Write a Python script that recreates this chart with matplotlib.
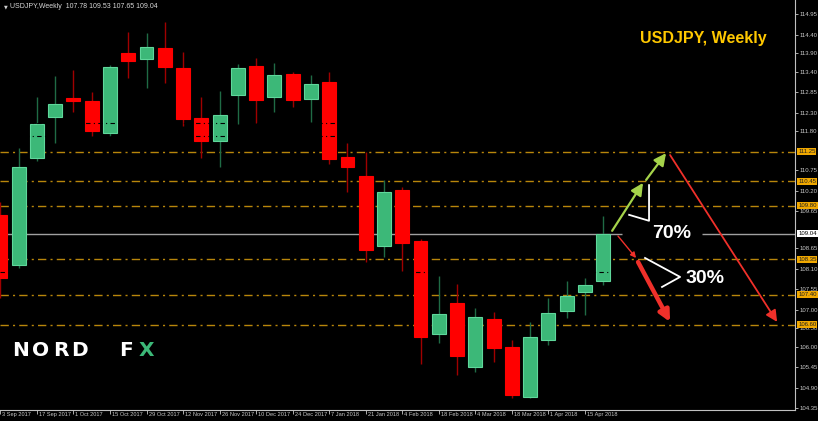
import matplotlib
matplotlib.use('Agg')
import matplotlib.pyplot as plt
from matplotlib.patches import Rectangle, FancyArrowPatch
from matplotlib.transforms import blended_transform_factory, offset_copy

# weekly USDJPY candles, 3 Sep 2017 .. 22 Apr 2018
opens = [109.55, 108.20, 111.08, 112.18, 112.69, 112.61, 111.75, 113.90, 113.74, 114.04,
         113.50, 112.15, 111.54, 112.77, 113.55, 112.72, 113.34, 112.67, 113.12, 111.11,
         110.60, 108.71, 110.22, 108.85, 106.35, 107.18, 105.46, 106.75, 106.00, 104.65,
         106.19, 106.97, 107.48, 107.78]
highs = [109.90, 111.35, 112.72, 113.28, 113.44, 112.85, 113.58, 114.47, 114.44, 114.73,
         113.93, 112.72, 112.88, 113.61, 113.77, 113.63, 113.39, 113.31, 113.39, 111.48,
         111.24, 110.49, 110.30, 108.90, 107.91, 107.69, 107.05, 106.94, 106.19, 106.67,
         107.32, 107.77, 107.85, 109.53]
lows = [107.32, 108.12, 111.00, 111.48, 112.32, 111.67, 111.67, 113.23, 112.96, 113.10,
        111.94, 111.08, 110.84, 111.99, 112.02, 112.32, 112.45, 112.05, 110.92, 110.17,
        108.28, 108.42, 108.04, 105.54, 106.11, 105.25, 105.33, 105.60, 104.63, 104.63,
        106.05, 106.78, 106.86, 107.65]
closes = [107.85, 110.84, 111.99, 112.53, 112.61, 111.80, 113.53, 113.69, 114.06, 113.53,
          112.13, 111.54, 112.23, 113.50, 112.64, 113.31, 112.64, 113.07, 111.05, 110.84,
          108.61, 110.17, 108.79, 106.27, 106.89, 105.76, 106.80, 105.97, 104.71, 106.27,
          106.91, 107.37, 107.66, 109.04]

date_labels = ['3 Sep 2017', '17 Sep 2017', '1 Oct 2017', '15 Oct 2017', '29 Oct 2017',
               '12 Nov 2017', '26 Nov 2017', '10 Dec 2017', '24 Dec 2017', '7 Jan 2018',
               '21 Jan 2018', '4 Feb 2018', '18 Feb 2018', '4 Mar 2018', '18 Mar 2018',
               '1 Apr 2018', '15 Apr 2018']
price_ticks = [114.95, 114.40, 113.90, 113.40, 112.85, 112.30, 111.80, 110.75, 110.20,
               109.65, 108.65, 108.10, 107.55, 107.00, 106.50, 106.00, 105.45, 104.90, 104.35]
levels = [111.25, 110.45, 109.80, 108.35, 107.40, 106.60]
hidden_levels = [112.02, 111.67, 108.01]
last_price = 109.04

GREEN = '#3cb878'
RED = '#ff0000'
GOLD = '#b8860b'

plt.rcParams['font.family'] = ['Liberation Sans', 'DejaVu Sans']

fig = plt.figure(figsize=(8.18, 4.21), dpi=100, facecolor='black')
ax = fig.add_axes([0, 11 / 421, 795 / 818, 410 / 421])
ax.set_facecolor('black')
ax.set_xlim(-0.02, 43.5)
ax.set_ylim(104.30, 115.33)

# candles
for i, (o, h, l, c) in enumerate(zip(opens, highs, lows, closes)):
    up = c >= o
    ax.vlines(i, l, h, color='#1f6b45' if up else '#a00000', lw=1, zorder=3)
    ax.add_patch(Rectangle((i - 0.38, min(o, c)), 0.76, max(abs(c - o), 0.06),
                           facecolor=GREEN if up else RED,
                           edgecolor='#5fd79b' if up else RED, lw=0.8, zorder=4))

for lv in levels:
    ax.axhline(lv, color=GOLD, lw=1, ls=(0, (6, 3, 1.5, 3)), zorder=2)
for lv in hidden_levels:
    ax.axhline(lv, color='black', lw=0.8, ls=(0, (4, 3, 1, 3)), zorder=5)

# current price line, broken around the 70% label
ax.hlines(last_price, -1, 34.03, color='#a0a0a0', lw=1, zorder=2)
ax.hlines(last_price, 38.41, 44, color='#a0a0a0', lw=1, zorder=2)

# forecast arrows
def arrow(p0, p1, color, lw, head):
    ax.add_patch(FancyArrowPatch(p0, p1, arrowstyle='-|>', mutation_scale=head,
                                 color=color, lw=lw, shrinkA=0, shrinkB=0, zorder=6))

arrow((33.49, 109.12), (35.18, 110.41), '#a5d34a', 1.6, 18)
arrow((35.35, 110.49), (36.44, 111.21), '#a5d34a', 1.6, 18)
arrow((33.81, 108.98), (34.80, 108.39), '#f0302a', 1.0, 8)
arrow((34.91, 108.28), (36.66, 106.67), '#f0302a', 3.2, 16)
arrow((36.66, 111.16), (42.52, 106.67), '#f0302a', 1.3, 17)

ax.plot([34.42, 35.51, 35.51], [109.55, 109.39, 110.35], color='white', lw=1.3, zorder=6)
ax.plot([35.29, 37.21, 36.22], [108.39, 107.88, 107.61], color='white', lw=1.3, zorder=6)
ax.text(36.77, 109.04, '70%', color='white', fontsize=14, fontweight='bold',
        ha='center', va='center', zorder=7)
ax.text(38.58, 107.83, '30%', color='white', fontsize=14, fontweight='bold',
        ha='center', va='center', zorder=7)

# axes styling
for s in ['left', 'top']:
    ax.spines[s].set_visible(False)
for s in ['right', 'bottom']:
    ax.spines[s].set_color('#c0c0c0')
    ax.spines[s].set_linewidth(0.8)

ax.yaxis.tick_right()
ax.set_yticks(price_ticks)
ax.set_yticklabels(['%.2f' % p for p in price_ticks])
ax.tick_params(axis='y', colors='#c8c8c8', labelsize=4.3, length=2, width=0.6, pad=1.5)

ax.set_xticks(range(0, 2 * len(date_labels), 2))
ax.set_xticklabels(date_labels, ha='left')
ax.tick_params(axis='x', colors='#c8c8c8', labelsize=4.1, length=3, width=0.6, pad=-1.5)
for lab in ax.get_xticklabels():
    lab.set_transform(offset_copy(lab.get_transform(), fig=fig, x=2, y=0, units='dots'))

trans = blended_transform_factory(ax.transAxes, ax.transData)
for lv in levels:
    ax.text(1.004, lv, '%.2f' % lv, transform=trans, fontsize=4.3, color='#202020',
            ha='left', va='center', clip_on=False, zorder=8,
            bbox=dict(boxstyle='square,pad=0.15', fc='#f0a800', ec='none'))
ax.text(1.004, last_price, '%.2f' % last_price, transform=trans, fontsize=4.3,
        color='black', ha='left', va='center', clip_on=False, zorder=8,
        bbox=dict(boxstyle='square,pad=0.15', fc='white', ec='none'))

# header, title and logo
fig.text(4 / 818, 1 - 7 / 421, '\u25bc', color='#d0d0d0', fontsize=3.5, va='center',
         family='DejaVu Sans')
fig.text(10 / 818, 1 - 7 / 421, 'USDJPY,Weekly  107.78 109.53 107.65 109.04',
         color='#d8d8d8', fontsize=5, va='center')
fig.text(767 / 818, 1 - 39 / 421, 'USDJPY, Weekly', color='#ffc800', fontsize=11.5,
         fontweight='bold', ha='right', va='center')

logo = [('N', 12), ('O', 32), ('R', 53), ('D', 71), ('F', 119), ('X', 139)]
for ch, x in logo:
    fig.text(x / 818, 1 - 350 / 421, ch, color='#3cb878' if ch == 'X' else 'white',
             fontsize=14.5, fontweight='bold', family='DejaVu Sans', va='center',
             ha='left')

fig.savefig('out.png', dpi=100, facecolor='black')
